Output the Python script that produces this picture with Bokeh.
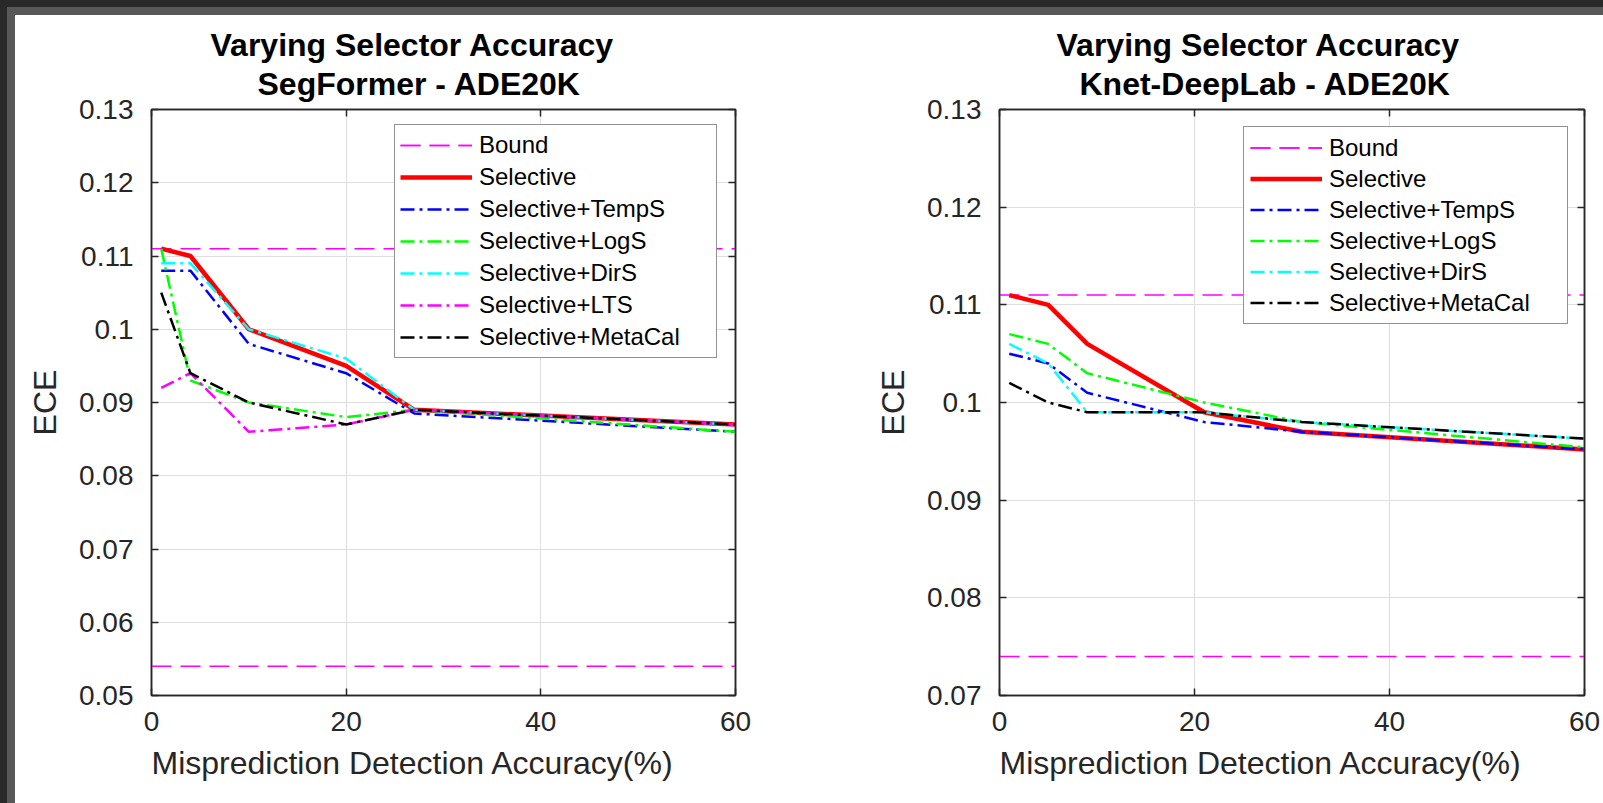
from bokeh.plotting import figure
from bokeh.models import Range1d, FixedTicker, LinearAxis, Legend, LegendItem, Title, Spacer
from bokeh.layouts import row, column
from bokeh.embed import file_html
from bokeh.resources import INLINE

# ---------------- data ----------------
x_ticks = [0, 20, 40, 60]
x_tick_labels = ["0", "20", "40", "60"]

# SegFormer - ADE20K
seg_x = [1, 4, 10, 20, 27, 60]
seg_selective = [0.111, 0.110, 0.100, 0.095, 0.089, 0.087]
seg_temps = [0.108, 0.108, 0.098, 0.094, 0.0885, 0.086]
seg_logs = [0.111, 0.093, 0.090, 0.088, 0.089, 0.086]
seg_dirs = [0.109, 0.109, 0.100, 0.096, 0.089, 0.087]
seg_lts = [0.092, 0.094, 0.086, 0.087, 0.089, 0.087]
seg_metacal = [0.105, 0.094, 0.090, 0.087, 0.089, 0.087]
seg_bounds = [0.111, 0.054]
seg_yticks = [0.05, 0.06, 0.07, 0.08, 0.09, 0.1, 0.11, 0.12, 0.13]
seg_ytick_labels = ["0.05", "0.06", "0.07", "0.08", "0.09", "0.1", "0.11", "0.12", "0.13"]

# Knet-DeepLab - ADE20K
knet_x = [1, 5, 9, 21, 31, 60]
knet_selective = [0.111, 0.110, 0.106, 0.099, 0.097, 0.0952]
knet_temps = [0.105, 0.104, 0.101, 0.098, 0.097, 0.0952]
knet_logs = [0.107, 0.106, 0.103, 0.100, 0.098, 0.0954]
knet_dirs = [0.106, 0.104, 0.099, 0.099, 0.098, 0.0963]
knet_metacal = [0.102, 0.100, 0.099, 0.099, 0.098, 0.0963]
knet_bounds = [0.111, 0.074]
knet_yticks = [0.07, 0.08, 0.09, 0.1, 0.11, 0.12, 0.13]
knet_ytick_labels = ["0.07", "0.08", "0.09", "0.1", "0.11", "0.12", "0.13"]

title_line1 = "Varying Selector Accuracy"
x_label = "Misprediction Detection Accuracy(%)"
y_label = "ECE"

# ---------------- styles ----------------
FONT = "Liberation Sans"
AX = "#262626"
DD = "14 5 3 5"
STYLES = {
    "Selective": dict(color="#ff0000", width=4.5, dash="solid"),
    "Selective+TempS": dict(color="#0000ff", width=2.5, dash=DD),
    "Selective+LogS": dict(color="#00ff00", width=2.5, dash=DD),
    "Selective+DirS": dict(color="#00ffff", width=2.5, dash=DD),
    "Selective+LTS": dict(color="#ff00ff", width=2.5, dash=DD),
    "Selective+MetaCal": dict(color="#000000", width=2.5, dash=DD),
}

H = 788
TOP = 94
BOTTOM = 108


def make_panel(title2, xs, series, bounds, y0, y1, yticks, ytick_labels,
               width, mb_left, mb_right, legend_xy, row_h, pad,
               off1, off2):
    p = figure(width=width, height=H, x_range=Range1d(0, 60), y_range=Range1d(y0, y1),
               output_backend="svg", toolbar_location=None,
               min_border_left=mb_left, min_border_right=mb_right,
               min_border_top=TOP, min_border_bottom=BOTTOM)
    top_ax = LinearAxis()
    right_ax = LinearAxis()
    p.add_layout(top_ax, "above")
    p.add_layout(right_ax, "right")

    p.background_fill_color = "white"
    p.border_fill_color = "white"
    p.outline_line_color = AX
    p.outline_line_width = 1.5

    p.xaxis.ticker = FixedTicker(ticks=x_ticks)
    p.yaxis.ticker = FixedTicker(ticks=yticks)
    p.below[0].major_label_overrides = dict(zip(x_ticks, x_tick_labels))
    p.left[0].major_label_overrides = dict(zip(yticks, ytick_labels))

    for ax in p.axis:
        ax.axis_line_color = AX
        ax.axis_line_width = 1.5
        ax.major_tick_line_color = AX
        ax.major_tick_line_width = 1.5
        ax.major_tick_in = 7
        ax.major_tick_out = 0
        ax.minor_tick_line_color = None
        ax.major_label_text_font = FONT
        ax.major_label_text_font_size = "28px"
        ax.major_label_text_color = AX
    # box axes: ticks only, no labels drawn
    for ax in (top_ax, right_ax):
        ax.major_label_text_font_size = "1px"
        ax.major_label_text_color = None
        ax.major_label_standoff = 0
    p.below[0].major_label_standoff = 16
    p.left[0].major_label_standoff = 18

    yax = p.left[0]
    yax.axis_label = y_label
    yax.axis_label_text_font = FONT
    yax.axis_label_text_font_size = "32px"
    yax.axis_label_text_font_style = "normal"
    yax.axis_label_text_color = AX
    yax.axis_label_standoff = 13

    p.xgrid.grid_line_color = "#dfdfdf"
    p.ygrid.grid_line_color = "#dfdfdf"
    p.xgrid.grid_line_width = 1
    p.ygrid.grid_line_width = 1

    # bounds
    bound_rs = []
    for b in bounds:
        r = p.line([x_ticks[0], x_ticks[-1]], [b, b], line_color="#ff00ff",
                   line_width=1.5, line_dash="20 9")
        bound_rs.append(r)
    items = [LegendItem(label="Bound", renderers=bound_rs)]
    for name, ys in series:
        st = STYLES[name]
        r = p.line(xs, ys, line_color=st["color"], line_width=st["width"],
                   line_dash=st["dash"])
        items.append(LegendItem(label=name, renderers=[r]))

    leg = Legend(items=items, location=legend_xy, margin=0, padding=pad,
                 spacing=2, glyph_width=72, glyph_height=row_h, label_height=row_h,
                 label_width=232, label_standoff=7,
                 label_text_font=FONT, label_text_font_size="24px",
                 label_text_color="black",
                 border_line_color=AX, border_line_width=1.5,
                 background_fill_color="white", background_fill_alpha=1.0)
    p.add_layout(leg)

    # two-line title (second line nearest the frame), left-anchored like the original
    p.add_layout(Title(text=title2, align="left", offset=off2, vertical_align="bottom",
                       standoff=15, text_font=FONT, text_font_style="bold",
                       text_font_size="32px", text_color="black"), "above")
    p.add_layout(Title(text=title_line1, align="left", offset=off1, vertical_align="bottom",
                       standoff=-12, text_font=FONT, text_font_style="bold",
                       text_font_size="32px", text_color="black"), "above")
    # x axis label, starting at the left edge of the frame
    p.add_layout(Title(text=x_label, align="left", offset=0, vertical_align="top",
                       standoff=22, text_font=FONT, text_font_style="normal",
                       text_font_size="32px", text_color=AX), "below")
    return p


p1 = make_panel("SegFormer - ADE20K", seg_x,
                [("Selective", seg_selective), ("Selective+TempS", seg_temps),
                 ("Selective+LogS", seg_logs), ("Selective+DirS", seg_dirs),
                 ("Selective+LTS", seg_lts), ("Selective+MetaCal", seg_metacal)],
                seg_bounds, 0.05, 0.13, seg_yticks, seg_ytick_labels,
                width=815, mb_left=136, mb_right=95, legend_xy=(243, 337),
                row_h=30, pad=5, off1=59, off2=106)

p2 = make_panel("Knet-DeepLab - ADE20K", knet_x,
                [("Selective", knet_selective), ("Selective+TempS", knet_temps),
                 ("Selective+LogS", knet_logs), ("Selective+DirS", knet_dirs),
                 ("Selective+MetaCal", knet_metacal)],
                knet_bounds, 0.07, 0.13, knet_yticks, knet_ytick_labels,
                width=773, mb_left=169, mb_right=19, legend_xy=(244, 371),
                row_h=29, pad=6, off1=57, off2=80)

DARK = "#292929"
GRAY = "#585858"
dark_top = Spacer(width=1603, height=7, styles={"background-color": DARK})
dark_left = Spacer(width=7, height=H + 8, styles={"background-color": DARK})
gray_top = Spacer(width=1596, height=8, styles={"background-color": GRAY})
gray_left = Spacer(width=8, height=H, styles={"background-color": GRAY})
layout = column(dark_top,
                row(dark_left,
                    column(gray_top, row(gray_left, p1, p2))))

open("out.html", "w").write(file_html(layout, INLINE))
